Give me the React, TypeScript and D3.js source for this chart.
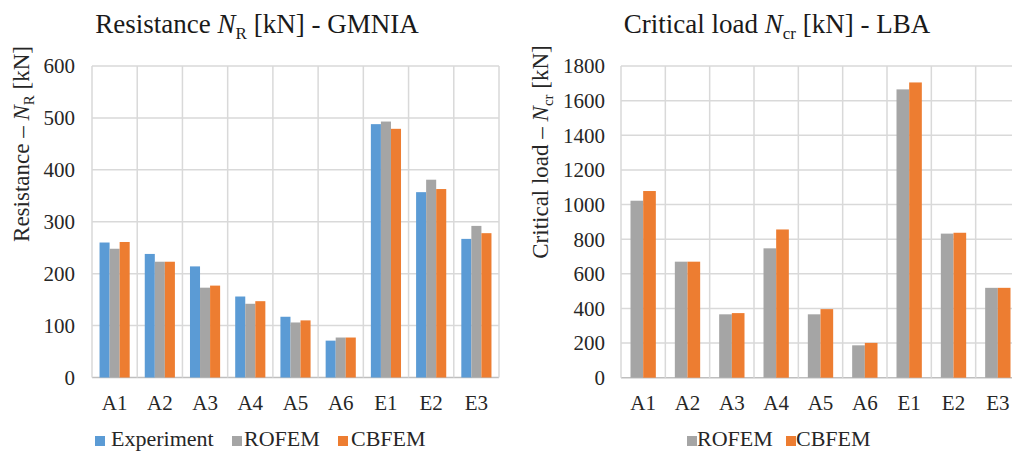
import React from 'react';
import * as d3 from 'd3';

const categories = ['A1', 'A2', 'A3', 'A4', 'A5', 'A6', 'E1', 'E2', 'E3'];
const experimentNR = [260, 238, 214, 156, 117, 71, 488, 357, 267];
const rofemNR = [248, 223, 173, 142, 106, 77, 493, 381, 292];
const cbfemNR = [261, 223, 177, 147, 110, 77, 479, 363, 278];
const rofemNcr = [1022, 670, 366, 747, 366, 187, 1665, 832, 519];
const cbfemNcr = [1078, 670, 373, 856, 396, 201, 1705, 837, 519];
const leftTicks = [0, 100, 200, 300, 400, 500, 600];
const rightTicks = [0, 200, 400, 600, 800, 1000, 1200, 1400, 1600, 1800];

const COLORS: Record<string, string> = {
  Experiment: '#5B9BD5',
  ROFEM: '#A5A5A5',
  CBFEM: '#ED7D31',
};

const FONT = "'Liberation Serif', 'Times New Roman', serif";
const TEXT = '#262626';
const GRID = '#d9d9d9';
const fontStyle = { fontFamily: FONT };

type Series = { name: string; values: number[] };

function Panel(props: {
  x0: number;
  x1: number;
  y0: number;
  y1: number;
  max: number;
  ticks: number[];
  series: Series[];
  tickRight: number;
}) {
  const { x0, x1, y0, y1, max, ticks, series, tickRight } = props;
  const x = d3.scaleBand<string>().domain(categories).range([x0, x1]).paddingInner(0).paddingOuter(0);
  const y = d3.scaleLinear().domain([0, max]).range([y0, y1]);
  const n = series.length;
  const bw = x.bandwidth() / (n + 1.5);
  const inner = d3
    .scaleBand<string>()
    .domain(series.map((s) => s.name))
    .range([0, bw * n]);
  const offset = (x.bandwidth() - bw * n) / 2;
  return (
    <g>
      {ticks.map((t) => (
        <line key={'g' + t} x1={x0} x2={x1} y1={y(t)} y2={y(t)} stroke={t === 0 ? '#bfbfbf' : GRID} strokeWidth={1.5} />
      ))}
      {[...categories.map((c) => x(c) as number), x1].map((v, i) => (
        <line key={'v' + i} x1={v} x2={v} y1={y(max)} y2={y(0)} stroke={GRID} strokeWidth={1.5} />
      ))}
      {series.map((s) =>
        s.values.map((v, i) => (
          <rect
            key={s.name + i}
            x={(x(categories[i]) as number) + offset + (inner(s.name) as number)}
            y={y(v)}
            width={bw}
            height={y(0) - y(v)}
            fill={COLORS[s.name]}
          />
        ))
      )}
      {ticks.map((t) => (
        <text key={'t' + t} x={tickRight} y={y(t)} dy="0.35em" textAnchor="end" fontSize={21} fill={TEXT} style={fontStyle}>
          {t}
        </text>
      ))}
      {categories.map((c) => (
        <text key={'c' + c} x={(x(c) as number) + x.bandwidth() / 2} y={410} textAnchor="middle" fontSize={21} fill={TEXT} style={fontStyle}>
          {c}
        </text>
      ))}
    </g>
  );
}

function LegendItem(props: { name: string; sx: number; tx: number }) {
  return (
    <g>
      <rect x={props.sx} y={436} width={10} height={10} fill={COLORS[props.name]} />
      <text x={props.tx} y={446} fontSize={22} fill={TEXT} style={fontStyle}>
        {props.name}
      </text>
    </g>
  );
}

export default function App() {
  return (
    <svg
      width={1012}
      height={451}
      style={{ position: 'absolute', left: 0, top: 0, background: '#fff', fontFamily: FONT }}
    >
      <rect width={1012} height={451} fill="#fff" />
      {/* Left panel */}
      <text x={257} y={33} textAnchor="middle" fontSize={27} fill="#1a1a1a" style={fontStyle}>
        Resistance <tspan fontStyle="italic">N</tspan>
        <tspan fontSize={17} dy={6}>R</tspan>
        <tspan dy={-6}> [kN] - GMNIA</tspan>
      </text>
      <text transform="translate(29,144) rotate(-90)" textAnchor="middle" fontSize={23} fill={TEXT} style={fontStyle}>
        Resistance – <tspan fontStyle="italic">N</tspan>
        <tspan fontSize={15} dy={5}>R</tspan>
        <tspan dy={-5}> [kN]</tspan>
      </text>
      <Panel
        x0={92}
        x1={499}
        y0={377.5}
        y1={66}
        max={600}
        ticks={leftTicks}
        tickRight={75}
        series={[
          { name: 'Experiment', values: experimentNR },
          { name: 'ROFEM', values: rofemNR },
          { name: 'CBFEM', values: cbfemNR },
        ]}
      />
      <LegendItem name="Experiment" sx={95} tx={111} />
      <LegendItem name="ROFEM" sx={232} tx={244} />
      <LegendItem name="CBFEM" sx={338} tx={351} />

      {/* Right panel */}
      <text x={777} y={33} textAnchor="middle" fontSize={27} fill="#1a1a1a" style={fontStyle}>
        Critical load <tspan fontStyle="italic">N</tspan>
        <tspan fontSize={17} dy={6}>cr</tspan>
        <tspan dy={-6}> [kN] - LBA</tspan>
      </text>
      <text transform="translate(548,152) rotate(-90)" textAnchor="middle" fontSize={23} fill={TEXT} style={fontStyle}>
        Critical load – <tspan fontStyle="italic">N</tspan>
        <tspan fontSize={15} dy={5}>cr</tspan>
        <tspan dy={-5}> [kN]</tspan>
      </text>
      <Panel
        x0={621}
        x1={1020}
        y0={377.7}
        y1={66}
        max={1800}
        ticks={rightTicks}
        tickRight={605}
        series={[
          { name: 'ROFEM', values: rofemNcr },
          { name: 'CBFEM', values: cbfemNcr },
        ]}
      />
      <LegendItem name="ROFEM" sx={687} tx={697} />
      <LegendItem name="CBFEM" sx={786} tx={796} />
    </svg>
  );
}
